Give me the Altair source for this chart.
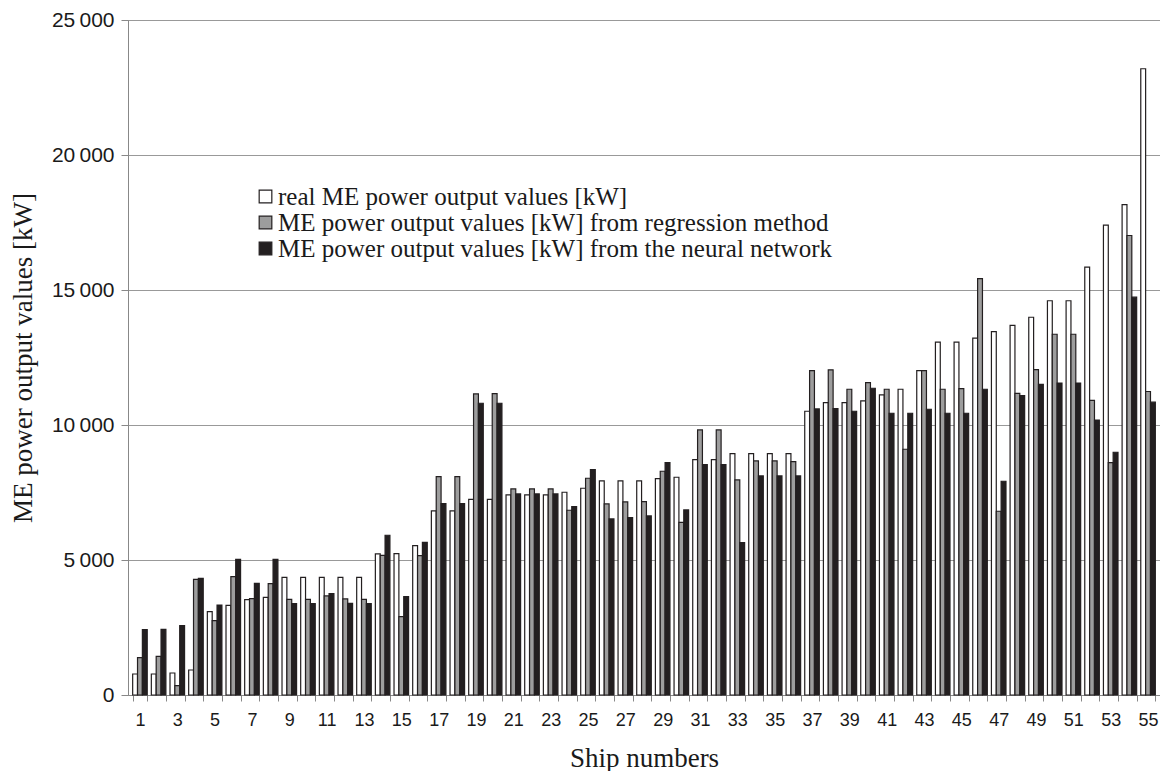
import altair as alt
import pandas as pd

ships = list(range(1, 56))

real = [778, 778, 815, 926, 3087, 3322, 3532, 3618, 4359, 4359,
        4359, 4359, 4359, 5224, 5236, 5533, 6817, 6817, 7249, 7249,
        7410, 7410, 7410, 7509, 7657, 7929, 7929, 7929, 8015, 8065,
        8719, 8719, 8941, 8941, 8941, 8941, 10510, 10831, 10831, 10893,
        11115, 11325, 12017, 13066, 13066, 13215, 13462, 13692, 13990, 14602,
        14602, 15844, 17400, 18162, 23195]

regression = [1383, 1432, 346, 4285, 2754, 4384, 3569, 4125, 3544, 3544,
              3668, 3557, 3544, 5175, 2902, 5162, 8089, 8089, 11150, 11164,
              7632, 7632, 7632, 6842, 8027, 7077, 7151, 7163, 8287, 6397,
              9818, 9818, 7966, 8670, 8670, 8645, 12017, 12042, 11325, 11572,
              11325, 9102, 12017, 11325, 11350, 15425, 6805, 11175, 12053, 13361,
              13361, 10910, 8609, 17019, 11241]

neural = [2420, 2433, 2569, 4322, 3334, 5026, 4137, 5026, 3384, 3384,
          3754, 3396, 3384, 5916, 3643, 5656, 7089, 7089, 10806, 10806,
          7447, 7447, 7447, 6978, 8349, 6521, 6570, 6632, 8608, 6854,
          8534, 8534, 5644, 8114, 8114, 8114, 10596, 10608, 10510, 11362,
          10436, 10436, 10584, 10436, 10436, 11325, 7916, 11092, 11506, 11556,
          11556, 10182, 8990, 14735, 10844]

series_names = [
    "real ME power output values [kW]",
    "ME power output values [kW] from regression method",
    "ME power output values [kW] from the neural network",
]
fills = ["#ffffff", "#9d9d9d", "#231f20"]
y_ticks = [0, 5000, 10000, 15000, 20000, 25000]

rows = []
for i, s in enumerate(ships):
    for name, vals in zip(series_names, [real, regression, neural]):
        rows.append({"ship": s, "series": name, "value": vals[i]})
df = pd.DataFrame(rows)

chart = alt.Chart(df).mark_bar(stroke="#231f20", strokeWidth=1.2).encode(
    x=alt.X(
        "ship:O",
        title="Ship numbers",
        scale=alt.Scale(paddingInner=0.22, paddingOuter=0.25),
        axis=alt.Axis(
            labelAngle=0,
            labelExpr="datum.value % 2 == 1 ? datum.label : ''",
            tickBand="extent",
            grid=False,
            labelFont="Liberation Sans",
            labelFontSize=18,
            labelColor="#1a1a1a",
            labelPadding=10,
            tickSize=6,
            tickColor="#888888",
            domainColor="#888888",
            titleFont="Liberation Serif",
            titleFontSize=27,
            titleFontWeight="normal",
            titleColor="#1a1a1a",
            titlePadding=16,
        ),
    ),
    xOffset=alt.XOffset(
        "series:N",
        sort=series_names,
        scale=alt.Scale(domain=series_names, paddingInner=0, paddingOuter=0),
    ),
    y=alt.Y(
        "value:Q",
        title="ME power output values [kW]",
        scale=alt.Scale(domain=[0, 25000]),
        axis=alt.Axis(
            values=y_ticks,
            labelExpr="replace(format(datum.value, ','), ',', '\u2009')",
            grid=True,
            gridColor="#999999",
            labelFont="Liberation Sans",
            labelFontSize=21,
            labelColor="#1a1a1a",
            labelPadding=7,
            tickSize=7,
            tickColor="#888888",
            domainColor="#888888",
            titleFont="Liberation Serif",
            titleFontSize=27,
            titleFontWeight="normal",
            titleColor="#1a1a1a",
            titlePadding=14,
        ),
    ),
    fill=alt.Fill(
        "series:N",
        sort=series_names,
        scale=alt.Scale(domain=series_names, range=fills),
        legend=alt.Legend(
            title=None,
            orient="none",
            legendX=125,
            legendY=164,
            labelFont="Liberation Serif",
            labelFontSize=25,
            labelColor="#1a1a1a",
            symbolType="square",
            symbolSize=160,
            symbolStrokeColor="#231f20",
            symbolStrokeWidth=1.2,
            rowPadding=0,
            labelOffset=0,
            labelLimit=800,
        ),
    ),
).properties(
    width=1032,
    height=675,
    autosize=alt.AutoSizeParams(type="none"),
    padding={"left": 120, "top": 12, "right": 0, "bottom": 76},
).configure_view(
    stroke="#888888"
)

chart.save("out.html", embed_options={"renderer": "svg", "actions": False})
